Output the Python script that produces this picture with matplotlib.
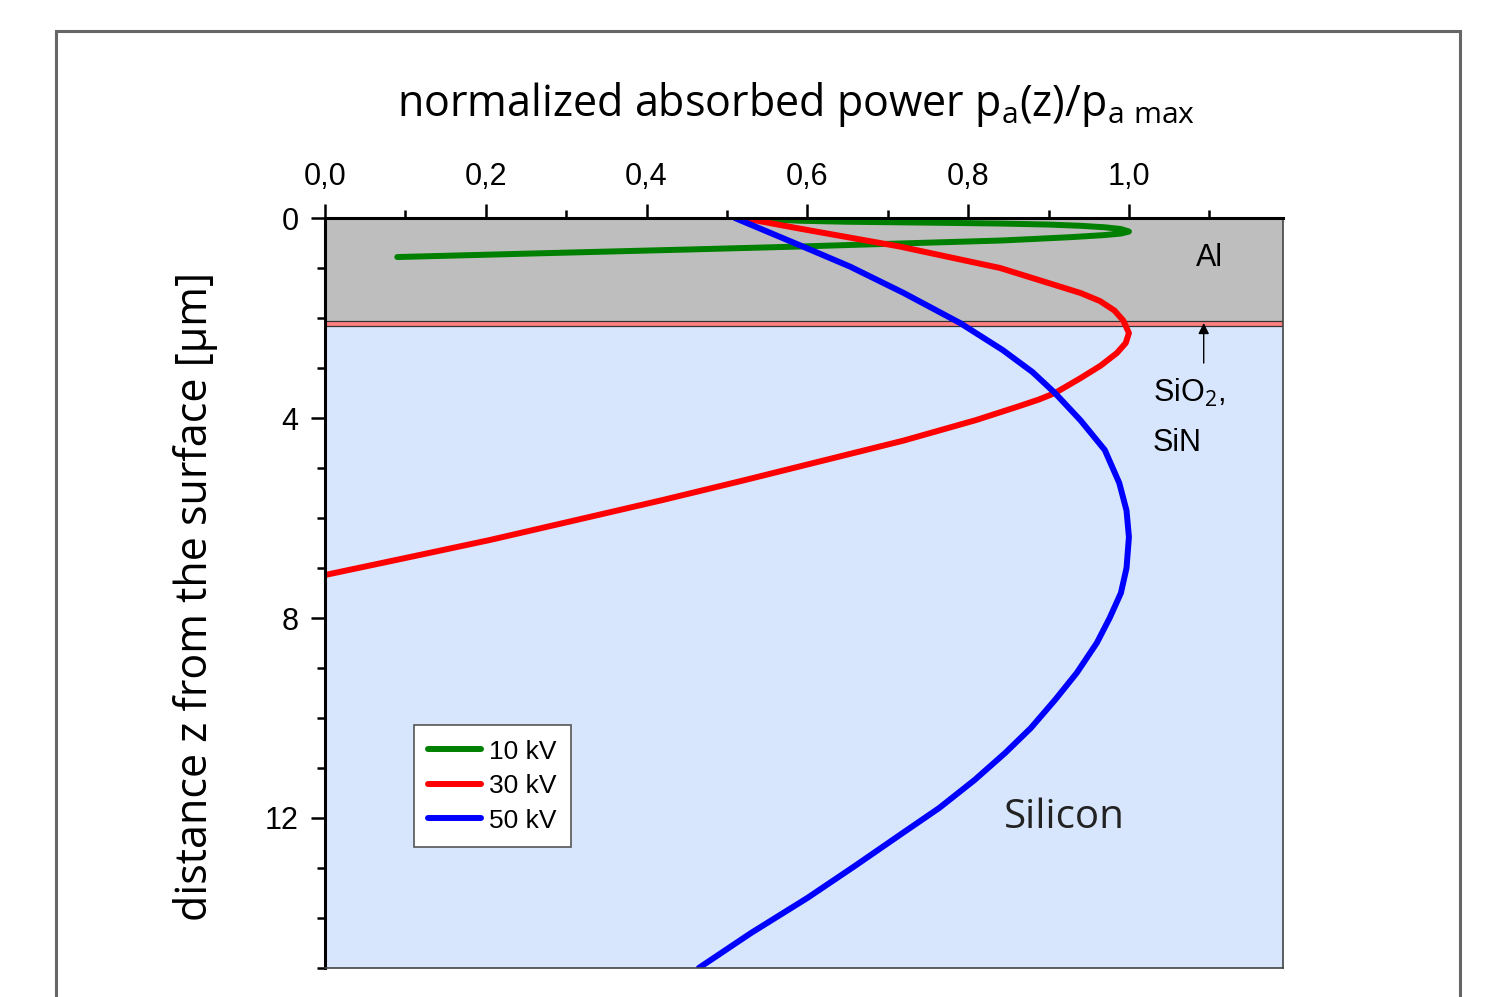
import matplotlib
matplotlib.use("Agg")
import matplotlib.pyplot as plt
from matplotlib.patches import Rectangle
from matplotlib.ticker import MultipleLocator, FuncFormatter

# normalized absorbed power (x) vs depth z in um (y)
p_10kv = [0.52, 0.59, 0.65, 0.75, 0.84, 0.90, 0.94, 0.97, 0.99, 1.00, 0.99, 0.97, 0.93, 0.88, 0.84, 0.65, 0.59, 0.45, 0.28, 0.09]
z_10kv = [0.00, 0.054, 0.074, 0.092, 0.11, 0.13, 0.155, 0.185, 0.22, 0.27, 0.31, 0.34, 0.38, 0.42, 0.45, 0.54, 0.57, 0.63, 0.70, 0.78]

p_30kv = [0.52, 0.59, 0.715, 0.84, 0.902, 0.94, 0.964, 0.982, 0.993, 1.00, 0.996, 0.985, 0.965, 0.94, 0.908,
          0.888, 0.862, 0.81, 0.72, 0.62, 0.52, 0.42, 0.31, 0.205, 0.10, 0.0]
z_30kv = [0.00, 0.21, 0.57, 1.00, 1.31, 1.50, 1.66, 1.85, 2.05, 2.30, 2.50, 2.70, 2.95, 3.20, 3.50,
          3.63, 3.77, 4.04, 4.45, 4.85, 5.25, 5.64, 6.05, 6.44, 6.80, 7.14]

p_50kv = [0.51, 0.55, 0.59, 0.653, 0.72, 0.79, 0.843, 0.88, 0.908, 0.94, 0.97, 0.988, 0.997, 1.00,
          0.997, 0.99, 0.976, 0.96, 0.935, 0.908, 0.878, 0.846, 0.808, 0.764, 0.715, 0.66, 0.60, 0.53, 0.465]
z_50kv = [0.00, 0.27, 0.54, 0.97, 1.50, 2.10, 2.64, 3.08, 3.50, 4.05, 4.64, 5.30, 5.85, 6.38,
          7.00, 7.50, 8.00, 8.50, 9.10, 9.64, 10.20, 10.70, 11.24, 11.80, 12.34, 12.95, 13.60, 14.30, 15.00]

labels = ["10 kV", "30 kV", "50 kV"]
colors = ["#008000", "#ff0000", "#0000ff"]

al_top, al_bottom = 0.0, 2.05
ox_bottom = 2.15

plt.rcParams["mathtext.fontset"] = "custom"
plt.rcParams["mathtext.rm"] = "Open Sans"
plt.rcParams["mathtext.it"] = "Open Sans"

fig = plt.figure(figsize=(14.94, 9.97), dpi=100)
# outer frame
fig.patches.append(Rectangle((0.0375, -0.1), 0.9395, 1.069, transform=fig.transFigure,
                             fill=False, edgecolor="#666666", lw=2.2))

ax = fig.add_axes([0.2175, 0.0291, 0.6412, 0.7522])
ax.set_facecolor("#d8e6fd")
ax.axhspan(al_top, al_bottom, color="#bebebe", lw=0)
ax.axhspan(al_bottom, ox_bottom, facecolor="#ff8080", edgecolor="#333333", lw=0.9)

for p, z, lab, c in zip([p_10kv, p_30kv, p_50kv], [z_10kv, z_30kv, z_50kv], labels, colors):
    ax.plot(p, z, color=c, lw=4.3, label=lab, solid_capstyle="round", solid_joinstyle="round")

ax.set_xlim(0, 1.1915)
ax.set_ylim(15, 0)

ax.xaxis.tick_top()
ax.xaxis.set_major_locator(MultipleLocator(0.2))
ax.xaxis.set_minor_locator(MultipleLocator(0.1))
ax.xaxis.set_major_formatter(FuncFormatter(lambda v, pos: f"{v:.1f}".replace(".", ",")))
ax.yaxis.set_major_locator(MultipleLocator(4))
ax.yaxis.set_minor_locator(MultipleLocator(1))
ax.tick_params(which="both", direction="out", width=1.8, color="black")
ax.tick_params(which="major", length=10, labelsize=22, pad=9)
ax.tick_params(which="minor", length=6)
for lbl in ax.get_xticklabels() + ax.get_yticklabels():
    lbl.set_family("Liberation Sans")

for s in ["left", "top"]:
    ax.spines[s].set_linewidth(2.2)
    ax.spines[s].set_color("black")
for s in ["right", "bottom"]:
    ax.spines[s].set_linewidth(1.2)
    ax.spines[s].set_color("#444444")

fig.text(0.533, 0.895, r"normalized absorbed power p$_\mathrm{a}$(z)/p$_\mathrm{a\ max}$",
         ha="center", va="center", fontsize=31, family="Open Sans")
fig.text(0.131, 0.402, "distance z from the surface [µm]", rotation=90,
         ha="center", va="center", fontsize=31, family="Open Sans")

ax.text(1.10, 0.8, "Al", ha="center", va="center", fontsize=22, family="Liberation Sans")
ax.annotate("", xy=(1.093, 2.1), xytext=(1.093, 2.9),
            arrowprops=dict(arrowstyle="-|>", color="black", lw=1.0, mutation_scale=16,
                            shrinkA=0, shrinkB=0))
ax.text(1.03, 3.5, r"SiO$_2$,", ha="left", va="center", fontsize=22, family="Liberation Sans")
ax.text(1.03, 4.5, "SiN", ha="left", va="center", fontsize=22, family="Liberation Sans")
ax.text(0.92, 12.0, "Silicon", ha="center", va="center", fontsize=29, family="Open Sans",
        color="#222222")

leg = ax.legend(loc="upper left", bbox_to_anchor=(0.0929, 0.324), frameon=True, fancybox=False,
                prop={"family": "Liberation Sans", "size": 19}, handlelength=2.0,
                handletextpad=0.3, borderpad=0.55, labelspacing=0.4, borderaxespad=0,
                framealpha=1)
leg.get_frame().set_edgecolor("#555555")
leg.get_frame().set_linewidth(1.2)

fig.savefig("out.png", dpi=100)
